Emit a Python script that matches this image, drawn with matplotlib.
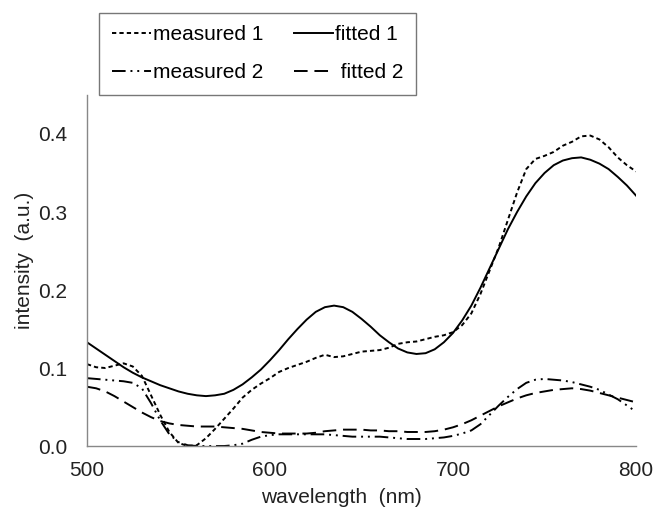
import matplotlib
matplotlib.use("Agg")
import matplotlib.pyplot as plt
import numpy as np

plt.rcParams['font.family'] = ['Liberation Sans', 'DejaVu Sans']

wavelength = list(range(500, 801, 5))

measured_1 = [.105, .101, .100, .103, .106, .102, .090, .065, .040, .018, .004, .000, .001, .010, .022,
              .035, .048, .062, .072, .080, .087, .095, .100, .104, .108, .113, .117, .114, .115, .118,
              .121, .122, .123, .126, .131, .133, .134, .137, .140, .142, .146, .155, .170, .195, .225,
              .255, .290, .325, .355, .368, .372, .377, .385, .390, .397, .398, .393, .383, .370, .360, .352]

fitted_1 = [.133, .125, .117, .109, .101, .094, .088, .083, .078, .074, .070, .067, .065, .064, .065,
            .067, .072, .079, .088, .098, .110, .123, .137, .150, .162, .172, .178, .180, .178, .172,
            .163, .153, .142, .133, .125, .120, .118, .119, .124, .133, .145, .161, .180, .203, .228,
            .253, .278, .300, .320, .337, .350, .360, .366, .369, .370, .367, .362, .355, .345, .334, .321]

measured_2 = [.087, .086, .085, .084, .083, .081, .074, .055, .033, .015, .005, .001, .000, .000, .000,
              .000, .001, .003, .008, .012, .014, .015, .015, .015, .015, .015, .015, .014, .013, .012,
              .012, .012, .012, .011, .010, .009, .009, .009, .010, .011, .013, .016, .020, .028, .040,
              .052, .063, .073, .081, .085, .086, .085, .084, .082, .079, .076, .072, .066, .060, .052, .044]

fitted_2 = [.076, .074, .070, .064, .057, .050, .043, .037, .032, .029, .027, .026, .025, .025, .025,
            .024, .023, .022, .020, .018, .017, .016, .016, .016, .016, .017, .019, .020, .021, .021,
            .021, .020, .020, .019, .019, .018, .018, .018, .019, .021, .024, .028, .033, .039, .045,
            .051, .056, .061, .065, .068, .070, .072, .073, .074, .073, .071, .068, .065, .062, .059, .056]

labels = ["measured 1", "fitted 1", "measured 2", " fitted 2"]
x_ticks = [500, 600, 700, 800]
y_ticks = [0.0, 0.1, 0.2, 0.3, 0.4]

fig = plt.figure(figsize=(6.56, 5.08), dpi=100)
ax = fig.add_axes([0.1326, 0.122, 0.837, 0.691])

lw = 1.4
l1, = ax.plot(wavelength, measured_1, color='black', lw=lw, dashes=(2.2, 1.6), label=labels[0])
l2, = ax.plot(wavelength, fitted_1, color='black', lw=lw, label=labels[1])
l3, = ax.plot(wavelength, measured_2, color='black', lw=lw, dashes=(7, 2.5, 1, 2.5, 1, 2.5), label=labels[2])
l4, = ax.plot(wavelength, fitted_2, color='black', lw=lw, dashes=(7, 3.5), label=labels[3])

ax.set_xlim(500, 800)
ax.set_ylim(0, 0.45)
ax.set_xticks(x_ticks)
ax.set_xticklabels([str(t) for t in x_ticks])
ax.set_yticks(y_ticks)
ax.set_yticklabels([f"{t:.1f}" for t in y_ticks])
ax.tick_params(length=0, labelsize=15, colors='#222222')
ax.tick_params(axis='y', pad=14)
ax.tick_params(axis='x', pad=11)
for s in ['top', 'right']:
    ax.spines[s].set_visible(False)
for s in ['left', 'bottom']:
    ax.spines[s].set_color('#888888')
    ax.spines[s].set_linewidth(1.0)

ax.set_xlabel("wavelength  (nm)", fontsize=15, color='#222222')
ax.set_ylabel("intensity  (a.u.)", fontsize=15, color='#222222')
ax.xaxis.set_label_coords(0.463, -0.121)
ax.yaxis.set_label_coords(-0.097, 0.53)

order = [0, 2, 1, 3]
handles = [l1, l2, l3, l4]
leg = fig.legend(handles=[handles[i] for i in order], labels=[labels[i] for i in order], ncol=2,
                 loc='upper left', bbox_to_anchor=(99/656, 1 - 13/508),
                 frameon=True, fancybox=False, edgecolor='#555555',
                 fontsize=15, handlelength=1.9, handletextpad=0.1,
                 columnspacing=1.45, labelspacing=0.9, borderpad=0.6,
                 borderaxespad=0)
leg.get_frame().set_linewidth(1.0)

fig.savefig("out.png", dpi=100)
